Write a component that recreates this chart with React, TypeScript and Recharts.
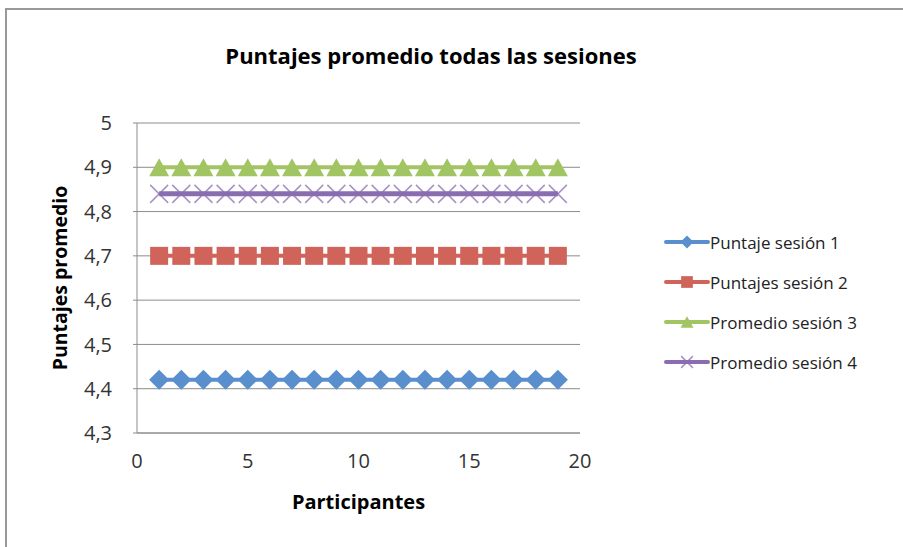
import { LineChart, Line, XAxis, YAxis, CartesianGrid, Legend, Label } from 'recharts';

const participants = [1, 2, 3, 4, 5, 6, 7, 8, 9, 10, 11, 12, 13, 14, 15, 16, 17, 18, 19];
const sesion1 = [4.42, 4.42, 4.42, 4.42, 4.42, 4.42, 4.42, 4.42, 4.42, 4.42, 4.42, 4.42, 4.42, 4.42, 4.42, 4.42, 4.42, 4.42, 4.42];
const sesion2 = [4.7, 4.7, 4.7, 4.7, 4.7, 4.7, 4.7, 4.7, 4.7, 4.7, 4.7, 4.7, 4.7, 4.7, 4.7, 4.7, 4.7, 4.7, 4.7];
const sesion3 = [4.9, 4.9, 4.9, 4.9, 4.9, 4.9, 4.9, 4.9, 4.9, 4.9, 4.9, 4.9, 4.9, 4.9, 4.9, 4.9, 4.9, 4.9, 4.9];
const sesion4 = [4.84, 4.84, 4.84, 4.84, 4.84, 4.84, 4.84, 4.84, 4.84, 4.84, 4.84, 4.84, 4.84, 4.84, 4.84, 4.84, 4.84, 4.84, 4.84];

const xTicks = [0, 5, 10, 15, 20];
const yTicks = [4.3, 4.4, 4.5, 4.6, 4.7, 4.8, 4.9, 5];

const SERIES = [
  { key: 's1', name: 'Puntaje sesión 1', color: '#5A8FCE', shape: 'diamond' },
  { key: 's2', name: 'Puntajes sesión 2', color: '#D0645A', shape: 'square' },
  { key: 's3', name: 'Promedio sesión 3', color: '#A2C563', shape: 'triangle' },
  { key: 's4', name: 'Promedio sesión 4', color: '#8A6DB0', shape: 'cross' },
];

const data = participants.map((p, i) => ({
  x: p,
  s1: sesion1[i],
  s2: sesion2[i],
  s3: sesion3[i],
  s4: sesion4[i],
}));

const FONT = '"Open Sans", "Noto Sans", sans-serif';

function Marker({ shape, color, cx, cy, scale = 1 }: any) {
  const s = scale;
  if (shape === 'diamond') {
    return <polygon points={`${cx},${cy - 10 * s} ${cx + 10 * s},${cy} ${cx},${cy + 10 * s} ${cx - 10 * s},${cy}`} fill={color} />;
  }
  if (shape === 'square') {
    return <rect x={cx - 9 * s} y={cy - 9 * s} width={18 * s} height={18 * s} fill={color} />;
  }
  if (shape === 'triangle') {
    return <polygon points={`${cx},${cy - 9 * s} ${cx + 10 * s},${cy + 9 * s} ${cx - 10 * s},${cy + 9 * s}`} fill={color} />;
  }
  return (
    <g stroke={color} strokeWidth={1.5} strokeOpacity={0.75}>
      <line x1={cx - 9 * s} y1={cy - 9 * s} x2={cx + 9 * s} y2={cy + 9 * s} />
      <line x1={cx - 9 * s} y1={cy + 9 * s} x2={cx + 9 * s} y2={cy - 9 * s} />
    </g>
  );
}

function makeDot(shape: string, color: string) {
  return (props: any) => {
    const { cx, cy, index } = props;
    return <Marker key={`dot-${shape}-${index}`} shape={shape} color={color} cx={cx} cy={cy} />;
  };
}

function LegendContent() {
  return (
    <div style={{ fontFamily: FONT, fontSize: 17, color: '#222' }}>
      {SERIES.map((s) => (
        <div key={s.key} style={{ display: 'flex', alignItems: 'center', height: 40, whiteSpace: 'nowrap' }}>
          <svg width={46} height={20} style={{ display: 'block' }}>
            <line x1={2} y1={10} x2={44} y2={10} stroke={s.color} strokeWidth={4} strokeLinecap="round" />
            <Marker shape={s.shape} color={s.color} cx={23} cy={10} scale={0.65} />
          </svg>
          <span>{s.name}</span>
        </div>
      ))}
    </div>
  );
}

const fmt = (v: number) => (Math.round(v * 10) / 10).toString().replace('.', ',');

export default function App() {
  return (
    <div style={{ position: 'absolute', left: 0, top: 0, width: 903, height: 547, background: '#fff' }}>
      <div style={{ position: 'absolute', left: 5, top: 8, right: 0, bottom: 0, borderTop: '2px solid #999', borderLeft: '2px solid #999' }} />
      <div
        style={{
          position: 'absolute',
          left: 0,
          width: 862,
          top: 40,
          textAlign: 'center',
          fontFamily: FONT,
          fontWeight: 700,
          fontSize: 22,
          color: '#000',
        }}
      >
        Puntajes promedio todas las sesiones
      </div>
      <LineChart width={903} height={547} data={data} margin={{ top: 123, right: 103, bottom: 34, left: 37 }}>
        <CartesianGrid horizontal vertical={false} stroke="#8c8c8c" />
        <XAxis
          dataKey="x"
          type="number"
          domain={[0, 20]}
          ticks={xTicks}
          height={80}
          axisLine={{ stroke: '#8c8c8c' }}
          tickLine={false}
          tickSize={0}
          tickMargin={21}
          tick={{ fill: '#333', fontSize: 20, fontFamily: FONT }}
        >
          <Label value="Participantes" position="insideBottom" offset={4} style={{ fontFamily: FONT, fontWeight: 700, fontSize: 20, fill: '#000' }} />
        </XAxis>
        <YAxis
          type="number"
          domain={[4.3, 5]}
          ticks={yTicks}
          width={100}
          axisLine={{ stroke: '#8c8c8c' }}
          tickLine={{ stroke: '#8c8c8c' }}
          tickSize={4}
          tickMargin={21}
          tickFormatter={fmt}
          tick={{ fill: '#333', fontSize: 20, fontFamily: FONT }}
        >
          <Label
            value="Puntajes promedio"
            angle={-90}
            position="insideLeft"
            offset={23}
            style={{ textAnchor: 'middle', fontFamily: FONT, fontWeight: 700, fontSize: 19.5, fill: '#000' }}
          />
        </YAxis>
        <Legend
          layout="vertical"
          align="right"
          verticalAlign="middle"
          content={<LegendContent />}
          wrapperStyle={{ left: 664, top: 222, width: 220 }}
        />
        {SERIES.map((s) => (
          <Line
            key={s.key}
            dataKey={s.key}
            name={s.name}
            stroke={s.color}
            strokeWidth={s.shape === 'cross' ? 5 : 4}
            dot={makeDot(s.shape, s.color)}
            activeDot={false}
            isAnimationActive={false}
          />
        ))}
      </LineChart>
    </div>
  );
}
